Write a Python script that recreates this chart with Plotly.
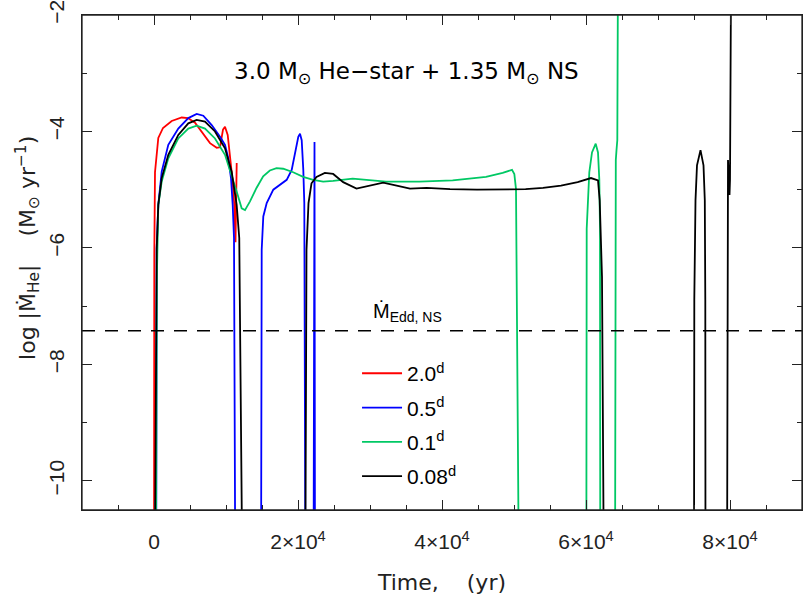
import plotly.graph_objects as go

# ---- data (time in yr, log |Mdot_He| in Msun/yr); -12 / -1 mark off-scale drops/rises
t_20 = [0, 0, 42, 139, 597, 1250, 2458, 3847, 4722, 5694, 6625, 7778, 8708, 9167,
        9583, 9861, 10236, 10556, 10875, 11153, 11319, 11486]
y_20 = [-12, -10.6, -6.12, -4.70, -4.11, -3.94, -3.82, -3.76, -3.77, -3.85, -4.00, -4.20,
        -4.28, -4.27, -3.97, -3.92, -4.06, -4.40, -4.80, -5.26, -5.90, -4.54]

t_05 = [300, 375, 597, 1069, 1986, 3375, 4764, 5931, 6847, 8014, 9167, 9861, 10319,
        10694, 10931, 11111, 11300, None,
        14861, 14958, 15181, 15653, 16569, 17500, 18431, 19125, 19583, 20042, 20278,
        20514, 20736, 20875, 21042, None,
        22153, 22292, 22361]
y_05 = [-12, -6.00, -5.26, -4.69, -4.23, -3.95, -3.77, -3.70, -3.73, -3.89, -4.09, -4.23,
        -4.46, -4.80, -5.26, -5.83, -12, None,
        -12, -6.03, -5.46, -5.23, -5.00, -4.92, -4.83, -4.66, -4.37, -4.09, -4.04,
        -4.15, -4.66, -5.23, -12, None,
        -12, -4.18, -12]

t_01 = [250, 400, 597, 1069, 1986, 3375, 4764, 5931, 7083, 8472, 9861, 10786, 11481,
        12176, 12639, 13333, 14236, 15162, 16088, 17014, 17940, 19329, 20718, 22107,
        23496, 24884, 27593, 32222, 36852, 41481, 46111, 48426, 49722, 50046, 50278,
        50700, None,
        60042, 60097, 60458, 60833, 61347, 61667, 61847, 61944, 61986, None,
        64028, 64069, 64139, 64236, 64347, 64417, 64430]
y_01 = [-12, -6.5, -5.26, -4.86, -4.46, -4.12, -3.95, -3.90, -3.95, -4.12, -4.40, -4.75,
        -5.03, -5.32, -5.35, -5.20, -4.97, -4.77, -4.67, -4.63, -4.64, -4.70, -4.78,
        -4.83, -4.86, -4.85, -4.81, -4.86, -4.86, -4.84, -4.78, -4.71, -4.66, -4.73,
        -4.99, -12, None,
        -12, -5.67, -4.70, -4.36, -4.21, -4.36, -4.82, -5.67, -12, None,
        -12, -6.89, -4.49, -4.32, -4.15, -2.0, -1.0]

t_008 = [100, 375, 597, 1069, 1986, 3375, 4764, 5931, 7083, 8472, 9861, 10786, 11481,
         11842, 12300, None,
         21000, 21181, 21458, 21875, 22569, 23726, 24884, 26273, 28125, 29514, 31829,
         33704, 35556, 37870, 41111, 44861, 49305, 51620, 54028, 56528, 58843, 60694,
         61667, 61903, 62222, 62500, None,
         75000, 75042, 75208, 75417, 75903, 76319, 76500, 76569, 76597, None,
         79583, 79611, 79653, 79722, 79819, 79931, 80000, 80069, 80139, 80160]
y_008 = [-12, -6.02, -5.26, -4.80, -4.40, -4.06, -3.86, -3.80, -3.83, -4.00, -4.29, -4.69,
         -5.26, -5.83, -12, None,
         -12, -6.03, -5.23, -4.89, -4.78, -4.71, -4.73, -4.87, -4.98, -4.94, -4.88,
         -4.93, -4.98, -4.97, -4.99, -5.00, -5.00, -4.99, -4.97, -4.93, -4.87, -4.80,
         -4.84, -5.18, -6.5, -12, None,
         -12, -6.89, -5.18, -4.58, -4.32, -4.58, -5.18, -6.89, -12, None,
         -12, -6.89, -4.58, -4.49, -4.75, -5.09, -4.83, -3.80, -2.0, -1.0]

series_names = ["2.0<sup>d</sup>", "0.5<sup>d</sup>", "0.1<sup>d</sup>", "0.08<sup>d</sup>"]
series_t = [t_20, t_05, t_01, t_008]
series_y = [y_20, y_05, y_01, y_008]
series_colors = ["#ff0000", "#0000ff", "#00c864", "#000000"]

log_mdot_edd = -7.42
x_range = [-10000, 90000]
y_range = [-10.5, -2]
x_tickvals = [0, 20000, 40000, 60000, 80000]
x_ticktext = ["0", "2×10<sup>4</sup>", "4×10<sup>4</sup>", "6×10<sup>4</sup>", "8×10<sup>4</sup>"]
y_tickvals = [-10, -8, -6, -4, -2]
y_ticktext = ["−10", "−8", "−6", "−4", "−2"]

FONT = "Liberation Sans"
TFONT = "DejaVu Sans"

fig = go.Figure()
for i, (name, tx, ty, col) in enumerate(zip(series_names, series_t, series_y, series_colors)):
    fig.add_trace(go.Scatter(x=tx, y=ty, mode="lines", name=name, legendgroup=f"g{i}",
                             line=dict(color=col, width=1.8), connectgaps=False))

# Eddington line
fig.add_trace(go.Scatter(x=x_range, y=[log_mdot_edd, log_mdot_edd], mode="lines",
                         line=dict(color="black", width=1.5, dash="13px,10px"),
                         showlegend=False, hoverinfo="skip"))

axis_common = dict(showline=True, linecolor="#222", linewidth=1.3, mirror="ticks",
                   ticks="inside", ticklen=10, tickwidth=1.2, tickcolor="#222",
                   showgrid=False, zeroline=False, automargin=False,
                   ticklabeloverflow="allow",
                   tickfont=dict(family=FONT, size=21, color="#222"))

fig.update_xaxes(range=x_range, tickvals=x_tickvals, ticktext=x_ticktext,
                 minor=dict(dtick=5000, tick0=0, ticks="inside", ticklen=5, tickcolor="#222", tickwidth=1.2),
                 title=dict(text="Time,\u00a0\u00a0\u00a0 (yr)", font=dict(family=TFONT, size=22, color="#222"),
                            standoff=22),
                 ticklabelstandoff=13,
                 **axis_common)
fig.update_yaxes(range=y_range, tickvals=y_tickvals, ticktext=y_ticktext, tickangle=-90,
                 minor=dict(dtick=1, tick0=0, ticks="inside", ticklen=5, tickcolor="#222", tickwidth=1.2),
                 ticklabelstandoff=8,
                 **axis_common)

# plot frame
fig.add_shape(type="rect", xref="paper", yref="paper", x0=0, x1=1, y0=0, y1=1,
              line=dict(color="#222", width=1.3), layer="above")

fig.add_annotation(text="3.0 M<sub>⊙</sub> He−star + 1.35 M<sub>⊙</sub> NS",
                   x=35000, y=-3.0, xref="x", yref="y", showarrow=False,
                   font=dict(family=TFONT, size=23, color="black"))
fig.add_annotation(text="M\u0307<sub>Edd, NS</sub>", x=35200, y=-7.1, xref="x", yref="y",
                   showarrow=False, font=dict(family=FONT, size=20, color="black"))
fig.add_annotation(text="log |M\u0307<sub>He</sub>|\u00a0\u00a0\u00a0 (M<sub>⊙</sub> yr<sup>−1</sup>)",
                   x=-0.076, y=0.53, xref="paper", yref="paper", textangle=-90,
                   xanchor="center", yanchor="middle",
                   showarrow=False, font=dict(family=TFONT, size=22, color="#222"))

fig.update_layout(
    width=804, height=598,
    margin=dict(l=82, r=2, t=15, b=88),
    paper_bgcolor="white", plot_bgcolor="white",
    showlegend=True,
    legend=dict(x=0.382, y=0.317, xanchor="left", yanchor="top",
                bgcolor="rgba(0,0,0,0)", font=dict(family=FONT, size=21, color="black"),
                itemwidth=40, tracegroupgap=4),
)

fig.write_html("out.html", config={"displayModeBar": False},
               post_script="document.body.style.margin='0';")
